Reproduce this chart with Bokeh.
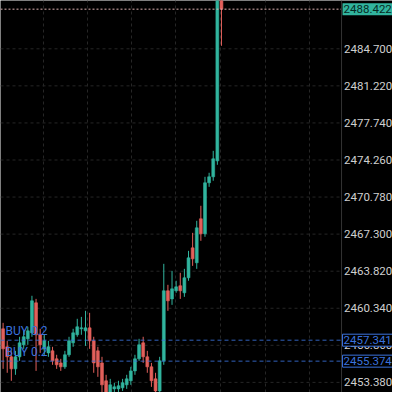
from bokeh.plotting import figure
from bokeh.models import FixedTicker, Span, Label, ColumnDataSource
from bokeh.core.properties import value
from bokeh.embed import file_html
from bokeh.resources import INLINE

# ---- data ----
opens = [2458.41, 2456.72, 2455.78, 2454.65, 2455.78, 2456.91, 2457.47, 2458.03, 2460.85, 2457.85,
         2456.53, 2456.15, 2456.34, 2455.59, 2455.21, 2454.84, 2455.97, 2457.09, 2457.85, 2458.41,
         2458.22, 2458.50, 2457.28, 2456.34, 2455.21, 2453.53, 2452.02, 2452.77, 2452.77, 2452.87,
         2453.15, 2453.53, 2454.46, 2455.59, 2457.09, 2455.78, 2454.84, 2453.71, 2452.58, 2455.40,
         2461.98, 2461.22, 2461.98, 2462.45, 2461.79, 2463.20, 2466.01, 2464.61, 2468.74, 2467.33,
         2472.12, 2472.68, 2474.18, 2491.08]
highs = [2458.97, 2457.28, 2456.34, 2456.34, 2457.66, 2458.22, 2458.60, 2461.51, 2461.22, 2458.41,
         2457.85, 2457.28, 2456.72, 2455.97, 2455.59, 2456.34, 2457.66, 2458.41, 2459.35, 2459.53,
         2460.10, 2459.91, 2457.66, 2456.72, 2455.78, 2454.09, 2453.71, 2453.34, 2453.53, 2453.71,
         2454.09, 2454.84, 2455.97, 2457.47, 2457.66, 2456.34, 2455.21, 2454.28, 2455.78, 2464.51,
         2462.54, 2463.85, 2462.92, 2463.67, 2464.04, 2465.73, 2467.42, 2468.55, 2469.96, 2472.68,
         2473.06, 2475.12, 2492.02, 2492.02]
lows = [2454.65, 2454.28, 2453.53, 2454.09, 2455.40, 2456.53, 2456.91, 2457.66, 2454.46, 2456.15,
        2455.97, 2455.78, 2455.03, 2454.65, 2454.46, 2454.65, 2455.78, 2456.72, 2457.66, 2457.85,
        2456.81, 2456.53, 2454.28, 2453.90, 2452.40, 2451.65, 2451.65, 2452.40, 2452.40, 2452.58,
        2452.77, 2453.15, 2454.09, 2455.40, 2455.21, 2454.28, 2452.96, 2451.83, 2452.02, 2455.03,
        2460.10, 2460.66, 2461.79, 2461.22, 2461.41, 2462.92, 2464.32, 2464.04, 2466.67, 2467.05,
        2471.74, 2472.31, 2473.81, 2484.98]
closes = [2456.53, 2455.78, 2454.65, 2455.78, 2457.09, 2457.66, 2458.22, 2461.04, 2457.85, 2456.91,
          2457.28, 2456.72, 2455.40, 2455.03, 2454.84, 2455.97, 2457.28, 2458.03, 2458.60, 2458.50,
          2458.50, 2457.28, 2455.21, 2454.84, 2453.15, 2452.02, 2453.15, 2452.96, 2453.06, 2453.34,
          2453.71, 2454.46, 2455.59, 2456.91, 2455.78, 2454.84, 2453.53, 2452.58, 2455.40, 2461.98,
          2461.04, 2462.16, 2462.35, 2461.98, 2463.20, 2465.07, 2464.98, 2467.89, 2467.33, 2472.12,
          2472.68, 2474.37, 2491.08, 2488.422]
price_ticks = [2453.38, 2456.86, 2460.34, 2463.82, 2467.30, 2470.78, 2474.26, 2477.74, 2481.22, 2484.70]
last_price = 2488.422
order_prices = [2457.341, 2455.374]
order_labels = ["BUY 0.2", "BUY 0.2"]

# ---- style / layout ----
GREEN = "#31b49e"
RED = "#e2605b"
BLUE = "#3a72dc"
GRID = "#262626"
X_START, X_END = -0.631, 94.51     # whole canvas in bar-index units
Y_BOTTOM, Y_TOP = 2452.43, 2489.235
AXIS_X = 82.14                     # price scale separator
LABEL_X = 82.74                    # left edge of the price labels
GRID_X = [9.8, 20.5, 31.2, 41.8, 52.8, 63.7, 74.4]
FONT = "Roboto"
FS = "11.5px"

idx = list(range(len(opens)))
colors = [GREEN if c >= o else RED for o, c in zip(opens, closes)]
src = ColumnDataSource(dict(
    x=idx, open=opens, high=highs, low=lows, close=closes,
    top=[max(o, c) for o, c in zip(opens, closes)],
    bottom=[min(o, c) for o, c in zip(opens, closes)],
    color=colors,
))

p = figure(width=392, height=392, x_range=(X_START, X_END), y_range=(Y_BOTTOM, Y_TOP),
           output_backend="svg", toolbar_location=None,
           background_fill_color="black", border_fill_color="black",
           min_border=0, outline_line_color=None)
p.xaxis.visible = False
p.yaxis.visible = False
p.ygrid.visible = False
p.xgrid.ticker = FixedTicker(ticks=GRID_X)
p.xgrid.grid_line_color = GRID
p.xgrid.grid_line_dash = "3 3"

# horizontal grid lines stop at the price scale
n = len(price_ticks)
p.segment(x0=[X_START] * n, y0=price_ticks, x1=[AXIS_X] * n, y1=price_ticks,
          line_color=GRID, line_dash="3 3", line_width=1)

# price scale separator
p.add_layout(Span(location=AXIS_X, dimension="height", line_color="#333333", line_width=1))

# price labels
p.text(x=[LABEL_X] * n, y=price_ticks, text=[f"{t:.3f}" for t in price_ticks],
       text_color="#cfcfcf", text_font=value(FONT), text_font_size=FS,
       text_baseline="middle", text_align="left")

# candles
p.segment(x0="x", y0="low", x1="x", y1="high", line_color="color", line_width=1, source=src)
p.vbar(x="x", top="top", bottom="bottom", width=0.7, fill_color="color",
       line_color="color", line_width=0.6, source=src)

# order lines
for pr, lab in zip(order_prices, order_labels):
    p.segment(x0=[X_START], y0=[pr], x1=[AXIS_X], y1=[pr], line_color=BLUE,
              line_dash="4 3", line_width=1, line_alpha=0.85)
    p.add_layout(Label(x=X_START, y=pr, x_offset=5, y_offset=2, text=lab, text_color=BLUE,
                       text_font=FONT, text_font_size="12px", text_baseline="bottom",
                       text_align="left"))
    p.add_layout(Label(x=AXIS_X, y=pr, x_offset=1, text=f"{pr:.3f}", text_color=BLUE,
                       text_font=FONT, text_font_size=FS, text_baseline="middle",
                       text_align="left", background_fill_color="black",
                       border_line_color=BLUE, border_line_width=1, padding=(1, 2)))

# last price line and tag
p.segment(x0=[X_START], y0=[last_price], x1=[AXIS_X], y1=[last_price],
          line_color="#e0b4b4", line_dash="2 2", line_width=1)
p.add_layout(Label(x=AXIS_X, y=last_price, x_offset=1, text=f"{last_price:.3f}",
                   text_color="#062a24", text_font=FONT, text_font_size=FS,
                   text_baseline="middle", text_align="left",
                   background_fill_color=GREEN, padding=(1, 2)))

open("out.html", "w").write(file_html(p, INLINE))
